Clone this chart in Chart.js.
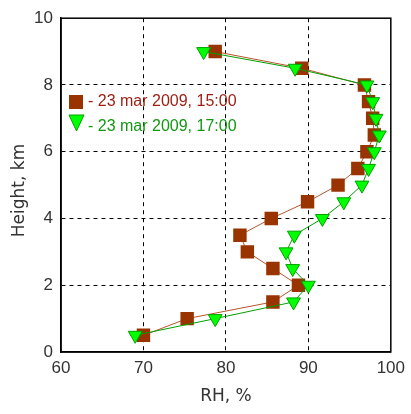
<!DOCTYPE html>
<html>
<head>
<meta charset="utf-8">
<script src="https://cdn.jsdelivr.net/npm/chart.js@4"></script>
<style>
  body { margin: 0; background: #fff; }
  #wrap { width: 411px; height: 414px; }
</style>
</head>
<body>
<div id="wrap"><canvas id="myChart"></canvas></div>
<script>
const heights = [9.0, 8.5, 8.0, 7.5, 7.0, 6.5, 6.0, 5.5, 5.0, 4.5, 4.0, 3.5, 3.0, 2.5, 2.0, 1.5, 1.0, 0.5];
const rh1500 = [78.7, 89.2, 96.8, 97.3, 97.8, 98.0, 97.1, 96.0, 93.6, 89.9, 85.5, 81.7, 82.6, 85.7, 88.8, 85.7, 75.3, 70.0];
const rh1700 = [77.3, 88.4, 97.1, 97.8, 98.2, 98.6, 98.0, 97.3, 96.5, 94.3, 91.7, 88.3, 87.3, 88.1, 90.0, 88.2, 78.7, 69.0];
const seriesLabels = ['- 23 mar 2009, 15:00', '- 23 mar 2009, 17:00'];
const xTicks = [60, 70, 80, 90, 100];
const yTicks = [0, 2, 4, 6, 8, 10];

document.addEventListener('DOMContentLoaded', () => {
    const toPoints = (xs) => xs.map((x, i) => ({x: x, y: heights[i]}));

    // legend drawn inside the plot, like the original
    const insideLegend = {
        id: 'insideLegend',
        afterDraw(chart) {
            const ctx = chart.ctx;
            ctx.save();
            ctx.font = "16px 'Liberation Sans', Arial, sans-serif";
            ctx.textBaseline = 'middle';
            // square
            ctx.fillStyle = '#993300';
            ctx.fillRect(69, 95, 14, 14);
            ctx.fillStyle = '#9c1c10';
            ctx.fillText(seriesLabels[0], 88, 102);
            // triangle
            ctx.beginPath();
            ctx.moveTo(69, 115);
            ctx.lineTo(84, 115);
            ctx.lineTo(76.5, 131);
            ctx.closePath();
            ctx.fillStyle = '#00ff00';
            ctx.fill();
            ctx.strokeStyle = '#00a000';
            ctx.lineWidth = 1;
            ctx.stroke();
            ctx.fillStyle = '#119911';
            ctx.fillText(seriesLabels[1], 88, 127);
            ctx.restore();
        }
    };

    const frame = {
        id: 'frame',
        beforeDatasetsDraw(chart) {
            const a = chart.chartArea;
            const ctx = chart.ctx;
            ctx.save();
            ctx.strokeStyle = '#000';
            ctx.lineWidth = 1.5;
            ctx.strokeRect(a.left, a.top, a.right - a.left, a.bottom - a.top);
            ctx.restore();
        }
    };

    const edge = (v, lo, hi) => (v === lo || v === hi) ? 'rgba(0,0,0,0)' : '#000';
    const tickFont = { family: "'Liberation Sans', Arial, sans-serif", size: 17 };
    const titleFont = { family: "'DejaVu Sans', sans-serif", size: 17 };

    const ctx = document.getElementById('myChart');
    const myChart = new Chart(ctx, {
        type: 'scatter',
        data: {
            datasets: [
                {
                    label: seriesLabels[0],
                    data: toPoints(rh1500),
                    showLine: true,
                    borderColor: '#b8552a',
                    borderWidth: 1,
                    pointStyle: 'rect',
                    pointRadius: 9.5,
                    pointBackgroundColor: '#993300',
                    pointBorderColor: '#993300',
                    pointBorderWidth: 0,
                    order: 1
                }, {
                    label: seriesLabels[1],
                    data: toPoints(rh1700),
                    showLine: true,
                    borderColor: '#00a000',
                    borderWidth: 1,
                    pointStyle: 'triangle',
                    rotation: 180,
                    pointRadius: 8,
                    pointBackgroundColor: '#00ff00',
                    pointBorderColor: '#00a000',
                    pointBorderWidth: 1,
                    order: 0
                }
            ]
        },
        options: {
            responsive: true,
            maintainAspectRatio: false,
            animation: false,
            layout: { padding: { top: 15, right: 17, left: 0, bottom: 0 } },
            plugins: {
                legend: { display: false },
                tooltip: { enabled: false }
            },
            scales: {
                x: {
                    type: 'linear',
                    min: 60,
                    max: 100,
                    afterBuildTicks: (s) => { s.ticks = xTicks.map(v => ({value: v})); },
                    afterFit: (s) => { s.height = 62; },
                    grid: {
                        color: (c) => edge(c.tick.value, 60, 100),
                        lineWidth: 1,
                        drawTicks: false
                    },
                    border: { display: true, color: '#000', width: 1.5, dash: [4, 4] },
                    ticks: { padding: 6, color: '#333', font: tickFont },
                    title: {
                        display: true,
                        text: 'RH, %',
                        color: '#333',
                        padding: { top: 0, bottom: 7 },
                        font: titleFont
                    }
                },
                y: {
                    type: 'linear',
                    min: 0,
                    max: 10,
                    afterBuildTicks: (s) => { s.ticks = yTicks.map(v => ({value: v})); },
                    afterFit: (s) => { s.width = 61; },
                    grid: {
                        color: (c) => edge(c.tick.value, 0, 10),
                        lineWidth: 1,
                        drawTicks: false
                    },
                    border: { display: true, color: '#000', width: 1.5, dash: [4, 4] },
                    ticks: { padding: 8, color: '#333', font: tickFont },
                    title: {
                        display: true,
                        text: 'Height, km  ',
                        color: '#333',
                        padding: { top: 9, bottom: 0 },
                        font: titleFont
                    }
                }
            }
        },
        plugins: [frame, insideLegend]
    });
});
</script>
</body>
</html>
